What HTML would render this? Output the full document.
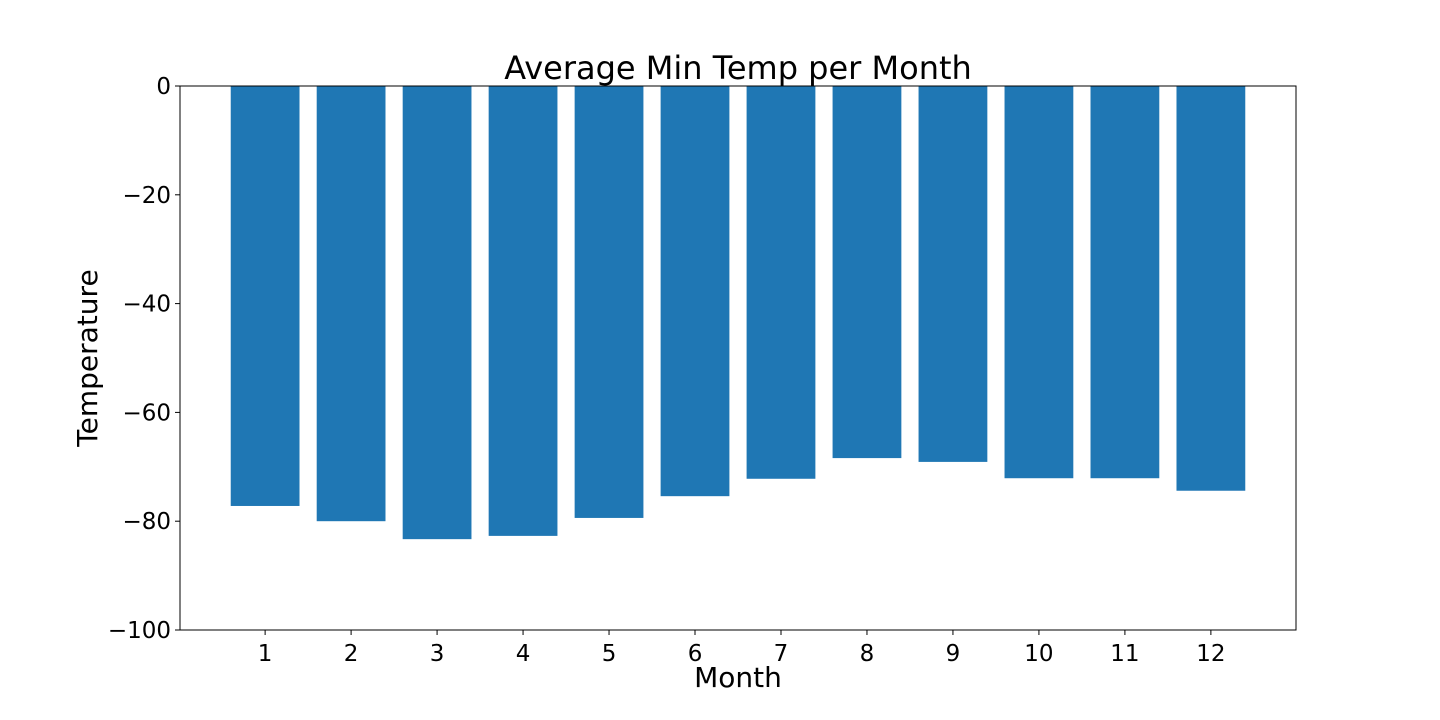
<!DOCTYPE html>
<html><head><meta charset="utf-8"><style>
body{margin:0;background:#fff;}
svg{display:block;font-family:"DejaVu Sans","Liberation Sans",sans-serif;}
</style></head><body>
<svg id="chart" width="1440" height="720">
<text x="738" y="79" font-size="32" text-anchor="middle">Average Min Temp per Month</text>
<g id="bars"></g>
<g id="xticks"></g>
<g id="yticks"></g>
<rect x="180" y="86" width="1116" height="544" fill="none" stroke="#000" stroke-width="1"/>
<text x="738" y="687" font-size="28" text-anchor="middle">Month</text>
<text transform="translate(97,358) rotate(-90)" font-size="28" text-anchor="middle">Temperature</text>
</svg>
<script>
const months=[1,2,3,4,5,6,7,8,9,10,11,12];
const minTemps=[-77.2,-80.0,-83.3,-82.7,-79.4,-75.4,-72.2,-68.4,-69.1,-72.1,-72.1,-74.4];
const yTicks=[0,-20,-40,-60,-80,-100];
const L=180,R=1296,T=86,B=630;
const xMin=0.01,xMax=12.99,yMin=-100,yMax=0;
const xs=v=>L+(v-xMin)/(xMax-xMin)*(R-L);
const ys=v=>T+(yMax-v)/(yMax-yMin)*(B-T);
const NS="http://www.w3.org/2000/svg";
const bars=document.getElementById('bars'),xt=document.getElementById('xticks'),yt=document.getElementById('yticks');
months.forEach((m,i)=>{
  const r=document.createElementNS(NS,'rect');
  const x0=xs(m-0.4),x1=xs(m+0.4);
  r.setAttribute('x',x0);r.setAttribute('width',x1-x0);
  r.setAttribute('y',ys(0));r.setAttribute('height',ys(minTemps[i])-ys(0));
  r.setAttribute('fill','#1f77b4');
  
  
  bars.appendChild(r);
  const tl=document.createElementNS(NS,'line');
  tl.setAttribute('x1',xs(m));tl.setAttribute('x2',xs(m));tl.setAttribute('y1',B);tl.setAttribute('y2',B+5);tl.setAttribute('stroke','#000');
  
  
  xt.appendChild(tl);
  const t=document.createElementNS(NS,'text');
  t.setAttribute('x',xs(m));t.setAttribute('y',B+31);t.setAttribute('font-size','23');t.setAttribute('text-anchor','middle');
  t.textContent=m;
  
  
  xt.appendChild(t);
});
yTicks.forEach(v=>{
  const tl=document.createElementNS(NS,'line');
  tl.setAttribute('x1',L-5);tl.setAttribute('x2',L);tl.setAttribute('y1',ys(v));tl.setAttribute('y2',ys(v));tl.setAttribute('stroke','#000');
  
  
  yt.appendChild(tl);
  const t=document.createElementNS(NS,'text');
  t.setAttribute('x',L-9);t.setAttribute('y',ys(v)+8);t.setAttribute('font-size','23');t.setAttribute('text-anchor','end');
  t.textContent=v<0?'\u2212'+Math.abs(v):String(v);
  
  
  yt.appendChild(t);
});
</script>
</body></html>
